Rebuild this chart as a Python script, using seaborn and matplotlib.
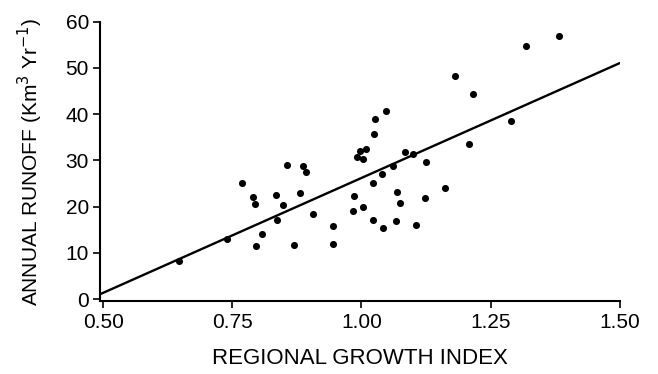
import numpy as np
import pandas as pd
import seaborn as sns
import matplotlib.pyplot as plt

# regional growth index vs annual runoff
growth = [0.647, 0.739, 0.768, 0.790, 0.793, 0.795, 0.808, 0.834, 0.837, 0.849,
          0.856, 0.869, 0.881, 0.887, 0.892, 0.906, 0.944, 0.944, 0.983, 0.986,
          0.992, 0.998, 1.002, 1.003, 1.009, 1.023, 1.023, 1.024, 1.027, 1.040,
          1.042, 1.048, 1.061, 1.067, 1.069, 1.074, 1.084, 1.100, 1.106, 1.122,
          1.125, 1.162, 1.181, 1.209, 1.215, 1.289, 1.318, 1.383]
runoff = [8.3, 13.0, 25.1, 22.1, 20.6, 11.5, 14.0, 22.6, 17.1, 20.3,
          29.0, 11.7, 22.9, 28.7, 27.4, 18.5, 15.8, 11.9, 19.0, 22.4,
          30.7, 32.0, 30.2, 19.9, 32.4, 25.2, 17.1, 35.7, 39.0, 27.1,
          15.4, 40.7, 28.8, 16.9, 23.1, 20.7, 31.9, 31.4, 16.0, 21.9,
          29.7, 24.0, 48.3, 33.6, 44.4, 38.5, 54.7, 57.0]

xticks = [0.50, 0.75, 1.00, 1.25, 1.50]
yticks = [0, 10, 20, 30, 40, 50, 60]

df = pd.DataFrame({"growth": growth, "runoff": runoff})

sns.set_theme(style="ticks")
plt.rcParams['font.family'] = ['Liberation Sans', 'DejaVu Sans']

fig = plt.figure(figsize=(6.58, 3.74), dpi=100)
ax = fig.add_axes([0.152, 0.194, 0.790, 0.748])
ax.set_xlim(0.494, 1.5)
ax.set_ylim(-0.5, 60)

sns.regplot(data=df, x="growth", y="runoff", ax=ax, ci=None, truncate=False,
            scatter_kws={"s": 26, "color": "black", "linewidths": 0, "alpha": 1},
            line_kws={"color": "black", "lw": 1.7})

ax.set_xlim(0.494, 1.5)
ax.set_ylim(-0.5, 60)
ax.set_xticks(xticks)
ax.set_xticklabels([f"{t:.2f}" for t in xticks])
ax.set_yticks(yticks)
ax.tick_params(labelsize=15, width=1.2, length=5, pad=3, color="black", labelcolor="black")
for s in ["left", "bottom"]:
    ax.spines[s].set_linewidth(1.5)
    ax.spines[s].set_color("black")
sns.despine(ax=ax)

ax.set_xlabel("REGIONAL GROWTH INDEX", fontsize=16, labelpad=12, color="black")
ax.set_ylabel(r"ANNUAL RUNOFF (Km$^3$ Yr$^{-1}$)", fontsize=15, labelpad=15, color="black")

fig.savefig("out.png", dpi=100)
